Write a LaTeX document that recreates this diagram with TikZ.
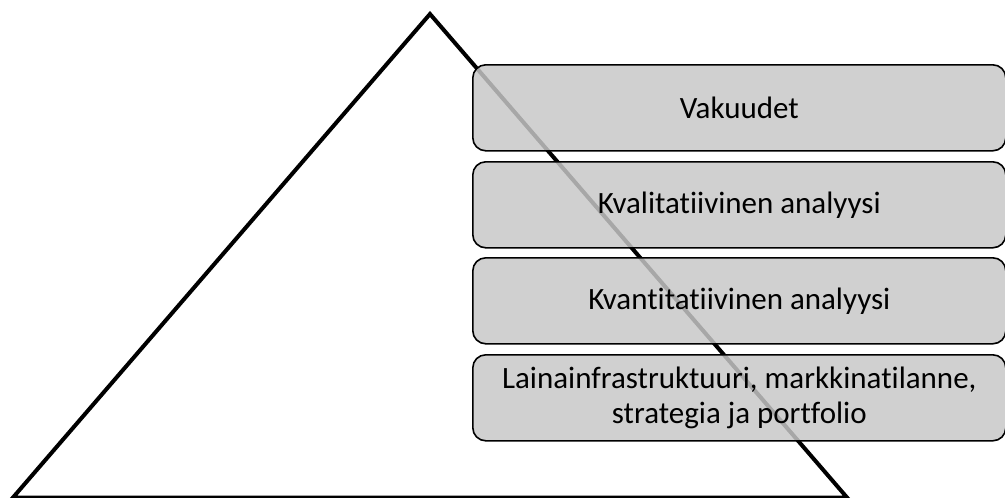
\documentclass[tikz,border=0pt]{standalone}
\usepackage{fontspec}
\setmainfont[RawFeature=-liga]{Carlito}
\begin{document}
\begin{tikzpicture}[x=1pt,y=-1pt,
  layer/.style={draw=black, line width=1.6pt, rounded corners=13pt,
    fill={rgb,255:red,199;green,199;blue,199}, fill opacity=0.84,
    text opacity=1, minimum width=533pt, minimum height=86pt,
    inner sep=0pt, align=center, font=\fontsize{31}{35}\selectfont, anchor=north west},
  pyramid/.style={draw=black, line width=4pt, line join=miter}]
  \useasboundingbox (0,0) rectangle (1005,498);
  \clip (0,0) rectangle (1005,498);
  % outline of the pyramid
  \coordinate (apex) at (430,14);
  \coordinate (bl) at (13,497.5);
  \coordinate (br) at (847,497.5);
  \draw[pyramid] (bl) -- (apex) -- (br) -- cycle;
  % stacked layers
  \node[layer] (l1) at (472,64) {Vakuudet};
  \node[layer] (l2) at (472,161) {Kvalitatiivinen analyysi};
  \node[layer] (l3) at (472,257) {Kvantitatiivinen analyysi};
  \node[layer] (l4) at (472,354) {Lainainfrastruktuuri, markkinatilanne,\\strategia ja portfolio};
\end{tikzpicture}
\end{document}
